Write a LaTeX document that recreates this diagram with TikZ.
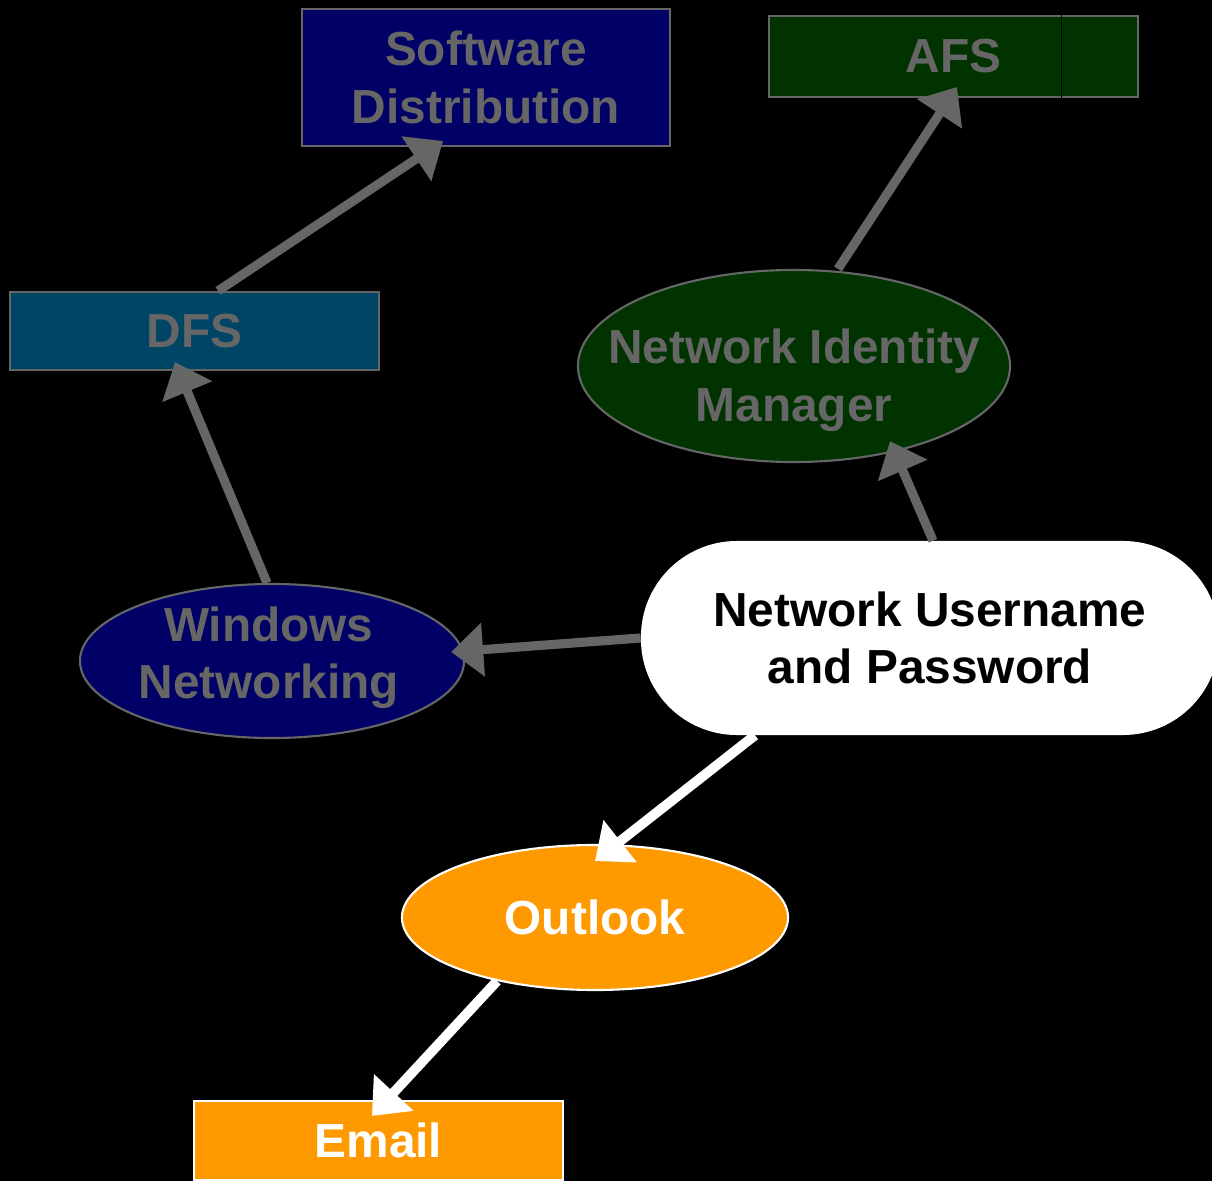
\documentclass[tikz,border=0pt]{standalone}
\usepackage{fontspec}
\setmainfont{Liberation Sans}
\usetikzlibrary{shapes, arrows.meta, positioning, calc}
\definecolor{cNavy}{RGB}{0,0,102}
\definecolor{cTeal}{RGB}{0,68,102}
\definecolor{cForest}{RGB}{0,51,0}
\definecolor{cOrange}{RGB}{255,153,0}
\definecolor{cGrey}{RGB}{102,102,102}

\begin{document}
\begin{tikzpicture}[x=0.025cm, y=-0.025cm,
            txt/.style={font=\fontsize{34}{41}\selectfont\bfseries, align=center},
            box/.style={txt, rectangle, draw=cGrey, line width=1.5pt, text=cGrey, inner sep=0pt},
            oval/.style={ellipse, draw=cGrey, line width=1.5pt, inner sep=0pt},
            gar/.style={draw=cGrey, line width=6.5pt, -{Triangle[length=0.8cm, width=1.3cm]}},
            war/.style={draw=white, line width=7pt, -{Triangle[length=0.8cm, width=1.3cm]}}]
            \fill[black] (0,0) rectangle (1212,1181);
            \useasboundingbox (0,0) rectangle (1212,1181);
            \node[box, fill=cNavy, minimum width=9.2cm, minimum height=3.425cm]  (sd) at (486,77.5) {Software\\Distribution};
            \node[box, fill=cForest, minimum width=9.225cm, minimum height=2.025cm] (afs) at (953.5,56.5) {AFS};
            \draw[black, thin] ($(afs.north west)+(293,0)$) -- ($(afs.south west)+(293,0)$);
            \node[box, fill=cTeal, minimum width=9.225cm, minimum height=1.95cm] (dfs) at (194.5,331) {DFS};
            \node[oval, fill=cForest, minimum width=10.8cm, minimum height=4.8cm,
                  label={[txt, text=cGrey, yshift=-0.35cm]center:Network Identity\\Manager}] (nim) at (794,366) {};
            \node[oval, fill=cNavy, minimum width=9.6cm, minimum height=3.85cm,
                  label={[txt, text=cGrey, yshift=0.08cm, xshift=-0.08cm]center:Windows\\Networking}] (wn) at (272,661) {};
            \node[txt, fill=white, rounded corners=2.4cm, minimum width=14.45cm, minimum height=4.85cm] (user) at (930,638) {Network Username\\and Password};
            \node[oval, draw=white, fill=cOrange, minimum width=9.65cm, minimum height=3.625cm,
                  label={[txt, text=white]center:Outlook}] (outlook) at (595,917.5) {};
            \node[box, draw=white, fill=cOrange, text=white, minimum width=9.225cm, minimum height=1.975cm] (email) at (378.5,1140.5) {Email};
            \draw[gar] ($(dfs.north)+(23.5,0)$) -- ($(sd.south)+(-43,-6)$);
            \draw[gar] ($(wn.north)+(-5,0)$) -- ($(dfs.south)+(-19.5,-9)$);
            \draw[gar] ($(nim.north)+(44,0)$) -- ($(afs.south)+(3.5,-11)$);
            \draw[gar] ($(user.north)+(3,0)$) -- ($(nim.south)+(96,-22)$);
            \draw[gar] (user.west) -- ($(wn.east)+(-14,-9)$);
            \draw[war] ($(user.south)+(-175,0)$) -- ($(outlook.north)+(0,17)$);
            \draw[war] ($(outlook.south)+(-98,-10)$) -- ($(email.north)+(-6.5,16)$);
        \end{tikzpicture}
\end{document}
